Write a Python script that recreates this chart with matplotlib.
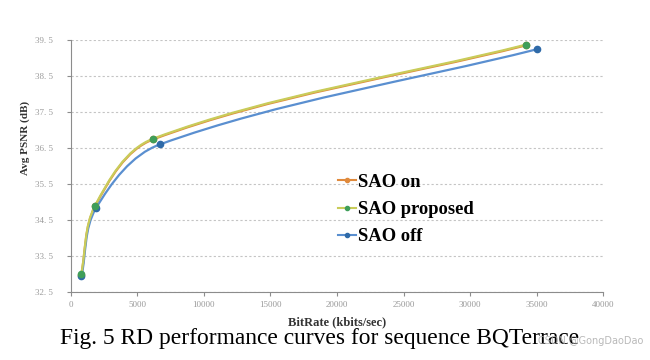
import numpy as np
import matplotlib.pyplot as plt
from matplotlib.path import Path
from matplotlib.patches import PathPatch
from matplotlib.lines import Line2D

# data
rate_on = [780, 1820, 6200, 34200]
psnr_on = [32.98, 34.88, 36.74, 39.35]
rate_prop = [780, 1820, 6200, 34200]
psnr_prop = [33.0, 34.9, 36.76, 39.37]
rate_off = [800, 1880, 6700, 35000]
psnr_off = [32.93, 34.82, 36.6, 39.24]

yticks = [32.5, 33.5, 34.5, 35.5, 36.5, 37.5, 38.5, 39.5]
ytick_labels = ["32. 5", "33. 5", "34. 5", "35. 5", "36. 5", "37. 5", "38. 5", "39. 5"]
xticks = [0, 5000, 10000, 15000, 20000, 25000, 30000, 35000, 40000]


def smooth_path(xs, ys, ax):
    # smoothed line like Excel: bezier segments through the points,
    # handle length follows each segment's length (display space)
    pts = ax.transData.transform(np.column_stack([xs, ys]))
    n = len(pts)
    dirs = []
    for i in range(n):
        a = pts[max(i - 1, 0)]
        b = pts[min(i + 1, n - 1)]
        d = b - a
        dirs.append(d / np.hypot(*d))
    verts = [pts[0]]
    codes = [Path.MOVETO]
    for i in range(n - 1):
        seg = np.hypot(*(pts[i + 1] - pts[i])) / 3.0
        verts += [pts[i] + dirs[i] * seg, pts[i + 1] - dirs[i + 1] * seg, pts[i + 1]]
        codes += [Path.CURVE4] * 3
    verts = ax.transData.inverted().transform(np.array(verts))
    return Path(verts, codes)


fig = plt.figure(figsize=(6.5, 3.6), dpi=100)
ax = fig.add_axes([0.109, 0.189, 0.819, 0.70])
ax.set_xlim(0, 40000)
ax.set_ylim(32.5, 39.5)

series = [
    (rate_on, psnr_on, "#e08a3c", "#e08a3c"),
    (rate_off, psnr_off, "#5a8fd0", "#2f6aa8"),
    (rate_prop, psnr_prop, "#c9cc5a", "#3f9e5a"),
]
for xs, ys, lc, mc in series:
    p = smooth_path(xs, ys, ax)
    ax.add_patch(PathPatch(p, facecolor="none", edgecolor=lc, lw=1.6, zorder=3))
    ax.plot(xs, ys, ls="none", marker="o", ms=4.5, color=mc, zorder=4)

ax.set_yticks(yticks)
ax.set_yticklabels(ytick_labels)
ax.set_xticks(xticks)
ax.grid(axis="y", ls=(0, (2, 2)), color="#c4c4c4", lw=0.8)
for s in ["top", "right"]:
    ax.spines[s].set_visible(False)
for s in ["left", "bottom"]:
    ax.spines[s].set_color("#8c8c8c")
ax.tick_params(colors="#8c8c8c", labelcolor="#9a9a9a", labelsize=6.5, length=3,
               direction="out")
ax.tick_params(axis="y", pad=10)
for lab in ax.get_xticklabels() + ax.get_yticklabels():
    lab.set_family("Liberation Serif")

ax.set_xlabel("BitRate (kbits/sec)", family="Liberation Serif", fontweight="bold",
              fontsize=9, color="#333333", labelpad=5)
ax.set_ylabel("Avg PSNR (dB)", family="Liberation Serif", fontweight="bold",
              fontsize=8, color="#333333")
ax.yaxis.set_label_coords(-0.077, 0.61)

handles = [
    Line2D([], [], color="#e08a3c", marker="o", ms=3, lw=1.5),
    Line2D([], [], color="#c9cc5a", marker="o", ms=3, mfc="#3f9e5a", mec="#3f9e5a", lw=1.5),
    Line2D([], [], color="#5a8fd0", marker="o", ms=3, mfc="#2f6aa8", mec="#2f6aa8", lw=1.5),
]
ax.legend(handles, ["SAO on", "SAO proposed", "SAO off"], loc="upper left",
          bbox_to_anchor=(0.47, 0.535), frameon=False, handlelength=1.0,
          handletextpad=0.1, labelspacing=0.55,
          prop={"family": "Liberation Serif", "weight": "bold", "size": 13.4})

fig.text(0.092, 0.045, "Fig. 5 RD performance curves for sequence BQTerrace",
         family="Liberation Serif", fontsize=16.9, color="black")
fig.text(0.99, 0.045, "CSDN @GongDaoDao", fontsize=7, color="#a8a8a8", alpha=0.8,
         ha="right")

fig.savefig("out.png", dpi=100)
